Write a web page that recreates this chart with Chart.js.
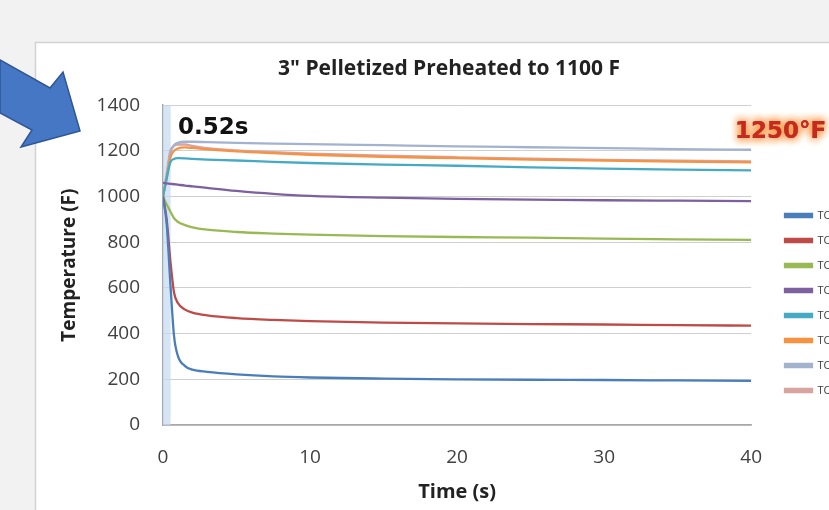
<!DOCTYPE html>
<html>
<head>
<meta charset="utf-8">
<script src="https://cdn.jsdelivr.net/npm/chart.js@4"></script>
<style>
  html, body { margin: 0; padding: 0; overflow: hidden; background: #f2f2f2; }
  #wrap { position: relative; width: 880px; height: 510px; }
</style>
</head>
<body>
<div id="wrap"><canvas id="tempChart" width="880" height="510"></canvas></div>
<script>
// time samples (s)
const times = [0, 0.25, 0.5, 0.75, 1, 1.5, 2, 3, 5, 7.5, 10, 15, 20, 25, 30, 35, 40];

// thermocouple readings (F)
const tc1 = [1000, 880, 620, 390, 305, 258, 242, 233, 222, 213, 208, 203, 200, 198, 197, 195, 193];
const tc2 = [1000, 900, 720, 580, 535, 505, 492, 480, 468, 460, 455, 448, 445, 442, 440, 437, 435];
const tc3 = [1000, 965, 935, 905, 890, 875, 865, 855, 845, 838, 833, 827, 823, 820, 816, 813, 810];
const tc4 = [1060, 1058, 1056, 1054, 1052, 1048, 1045, 1038, 1025, 1012, 1003, 995, 990, 987, 984, 982, 980];
const tc5 = [1000, 1080, 1150, 1165, 1168, 1167, 1165, 1162, 1158, 1152, 1147, 1140, 1135, 1128, 1122, 1118, 1115];
const tc6 = [1000, 1080, 1170, 1200, 1210, 1215, 1213, 1207, 1198, 1190, 1183, 1174, 1168, 1162, 1157, 1153, 1150];
const tc7 = [1000, 1090, 1190, 1225, 1235, 1240, 1240, 1238, 1235, 1232, 1230, 1225, 1220, 1216, 1212, 1208, 1205];
const tc8 = [1000, 1100, 1200, 1222, 1228, 1228, 1222, 1212, 1202, 1194, 1188, 1179, 1172, 1166, 1161, 1157, 1154];

const seriesNames = ['TC1', 'TC2', 'TC3', 'TC4', 'TC5', 'TC6', 'TC7', 'TC8'];
const seriesValues = [tc1, tc2, tc3, tc4, tc5, tc6, tc7, tc8];
const seriesColors = ['#4a7ebb', '#be4b48', '#98b954', '#7d60a0', '#46aac5', '#f69240', '#a3b3cf', '#d9a3a0'];

// shaded start window and callouts
const windowStart = 0;
const windowEnd = 0.52;
const windowLabel = '0.52s';
const peakLabel = '1250\u00B0F';

const FONT = "'Open Sans', sans-serif";

const datasets = seriesNames.map((name, i) => ({
  label: name,
  data: times.map((t, j) => ({ x: t, y: seriesValues[i][j] })),
  borderColor: seriesColors[i],
  backgroundColor: seriesColors[i],
  borderWidth: 2.3,
  pointRadius: 0,
  cubicInterpolationMode: 'monotone',
  fill: false
}));

// grey page + white chart frame
const framePlugin = {
  id: 'frame',
  beforeDraw(chart) {
    const c = chart.ctx;
    c.save();
    c.fillStyle = '#f2f2f2';
    c.fillRect(0, 0, chart.width, chart.height);
    c.fillStyle = '#ffffff';
    c.fillRect(35, 42, chart.width, chart.height);
    c.strokeStyle = '#d2d2d2';
    c.lineWidth = 1.5;
    c.beginPath();
    c.moveTo(35.5, chart.height);
    c.lineTo(35.5, 42.5);
    c.lineTo(chart.width, 42.5);
    c.stroke();
    c.restore();
  }
};

// light blue band for the first 0.52 s
const bandPlugin = {
  id: 'band',
  beforeDatasetsDraw(chart) {
    const { ctx, chartArea, scales } = chart;
    const x0 = scales.x.getPixelForValue(windowStart);
    const x1 = scales.x.getPixelForValue(windowEnd);
    ctx.save();
    ctx.fillStyle = 'rgba(195, 218, 242, 0.7)';
    ctx.fillRect(x0, chartArea.top, x1 - x0, chartArea.bottom - chartArea.top);
    ctx.restore();
  }
};

// nudge legend and title to where the original has them
const boxShift = {
  id: 'boxShift',
  afterLayout(chart) {
    const lg = chart.legend;
    const dx = 771 - lg.left;
    lg.left += dx; lg.right += dx;
    lg.top += 24; lg.bottom += 24;
    const tb = chart.titleBlock;
    const tx = 449 - (tb.left + tb.right) / 2;
    tb.left += tx; tb.right += tx;
  }
};

// arrow and text callouts
const notesPlugin = {
  id: 'notes',
  afterDraw(chart) {
    const c = chart.ctx;
    c.save();
    c.beginPath();
    c.moveTo(0, 60);
    c.lineTo(50, 88);
    c.lineTo(63, 72);
    c.lineTo(80, 131);
    c.lineTo(21, 147);
    c.lineTo(32, 130);
    c.lineTo(0, 113);
    c.closePath();
    c.fillStyle = '#4677c4';
    c.fill();
    c.strokeStyle = '#2f5597';
    c.lineWidth = 1.5;
    c.stroke();

    c.fillStyle = '#111';
    c.font = "bold 23px 'DejaVu Sans', sans-serif";
    c.textBaseline = 'middle';
    c.textAlign = 'left';
    c.fillText(windowLabel, 178, 128);

    c.font = "bold 23px 'DejaVu Sans', sans-serif";
    c.shadowColor = 'rgba(250, 150, 60, 0.95)';
    c.shadowBlur = 8;
    c.fillStyle = '#c42a22';
    for (let k = 0; k < 3; k++) c.fillText(peakLabel, 735, 132);
    c.restore();
  }
};

new Chart(document.getElementById('tempChart'), {
  type: 'line',
  data: { datasets },
  plugins: [framePlugin, bandPlugin, boxShift, notesPlugin],
  options: {
    responsive: false,
    animation: false,
    devicePixelRatio: 1,
    layout: { padding: { top: 48, left: 40, right: 53, bottom: 0 } },
    plugins: {
      title: {
        display: true,
        text: '3" Pelletized Preheated to 1100 F',
        color: '#222',
        font: { family: FONT, size: 21, weight: 'bold' },
        padding: { top: 8, bottom: 24 }
      },
      legend: {
        position: 'right',
        labels: {
          boxWidth: 27,
          boxHeight: 3,
          padding: 14,
          color: '#404040',
          font: { family: FONT, size: 11 }
        }
      },
      tooltip: { enabled: false }
    },
    scales: {
      x: {
        type: 'linear',
        min: 0,
        max: 40,
        afterFit(scale) { scale.height = 85; },
        ticks: { stepSize: 10, padding: 21, color: '#404040', font: { family: FONT, size: 19 } },
        grid: { display: false, drawTicks: false },
        border: { color: '#a8a8a8', width: 1.5 },
        title: {
          display: true,
          text: 'Time (s)',
          color: '#222',
          font: { family: FONT, size: 20, weight: 'bold' },
          padding: { top: 6, bottom: 6 }
        }
      },
      y: {
        min: 0,
        max: 1400,
        afterFit(scale) { scale.width = 123; },
        ticks: {
          stepSize: 200,
          padding: 23,
          color: '#404040',
          font: { family: FONT, size: 19 },
          callback: v => String(v)
        },
        grid: { color: '#cfcfcf', drawTicks: false },
        border: { color: '#a8a8a8', width: 1.5 },
        title: {
          display: true,
          text: 'Temperature (F)',
          color: '#222',
          font: { family: FONT, size: 19, weight: 'bold' },
          padding: { top: 18, bottom: 18 }
        }
      }
    }
  }
});
</script>
</body>
</html>
